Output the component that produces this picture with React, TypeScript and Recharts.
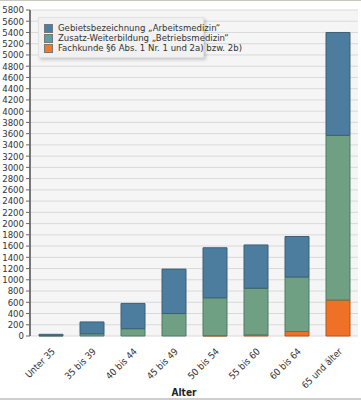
import React from "react";
import { BarChart, Bar, XAxis, YAxis, CartesianGrid } from "recharts";

const categories = ["Unter 35", "35 bis 39", "40 bis 44", "45 bis 49", "50 bis 54", "55 bis 60", "60 bis 64", "65 und älter"];
const fachkunde = [0, 0, 0, 0, 5, 20, 80, 640];
const betriebsmedizin = [5, 40, 130, 400, 675, 830, 970, 2930];
const arbeitsmedizin = [25, 210, 450, 790, 890, 770, 720, 1830];
const yTicks = Array.from({ length: 30 }, (_, i) => i * 200);
const boundaryTicks = [0, 1, 2, 3, 4, 5, 6, 7, 8];

const seriesNames = [
  "Gebietsbezeichnung „Arbeitsmedizin“",
  "Zusatz-Weiterbildung „Betriebsmedizin“",
  "Fachkunde §6 Abs. 1 Nr. 1 und 2a) bzw. 2b)",
];
const colors = ["#4c7d9e", "#6fa084", "#ee7127"];
const strokes = ["#3b6077", "#4f7a62", "#b5541a"];
const swatch = ["#4a7fa6", "#5e9f9a", "#f07a2a"];

const data = categories.map((c, i) => ({
  name: c,
  f: fachkunde[i],
  b: betriebsmedizin[i],
  a: arbeitsmedizin[i],
}));

const FONT = "'Liberation Sans Narrow', 'DejaVu Sans Condensed', 'Liberation Sans', sans-serif";

const XTick = (props: any) => {
  const { x, y, payload } = props;
  return (
    <g transform={`translate(${x + 3},${y + 6})`}>
      <text
        x={0}
        y={0}
        dy={3}
        textAnchor="end"
        transform="rotate(-45)"
        fontSize={9.5}
        fontFamily={FONT}
        fill="#333"
      >
        {payload.value}
      </text>
    </g>
  );
};

const LegendBox = () => (
  <div
    style={{
      position: "absolute",
      left: 38,
      top: 17,
      boxSizing: "border-box",
      width: 166,
      height: 41,
      background: "#f1f1f1",
      border: "1px solid #e2e2e2",
      boxShadow: "2px 2px 3px rgba(0,0,0,0.18)",
      padding: "5px 5px 0 5px",
      fontFamily: FONT,
      fontSize: 9.5,
      color: "#333",
      lineHeight: "10px",
    }}
  >
    {seriesNames.map((n, i) => (
      <div key={n} style={{ position: "relative", height: 10, paddingLeft: 14, whiteSpace: "nowrap" }}>
        <div
          style={{
            position: "absolute",
            left: 0,
            top: 1,
            width: 7,
            height: 7,
            background: swatch[i],
            border: "1px solid #777",
          }}
        />
        {n}
      </div>
    ))}
  </div>
);

export default function App() {
  return (
    <div style={{ position: "absolute", left: 0, top: 0, width: 361, height: 400, background: "#fff" }}>
      <div style={{ position: "absolute", left: 0, top: 0, width: 361, height: 1, background: "#c8c8c0" }} />
      <div style={{ position: "absolute", left: 0, top: 398, width: 361, height: 2, background: "#cfcfcf" }} />
      <BarChart
        width={361}
        height={400}
        data={data}
        margin={{ top: 10, right: 3, left: 0, bottom: 0 }}
        barSize={24}
      >
        <CartesianGrid vertical={false} stroke="#d9d9d9" strokeWidth={1} fill="#f5f5f5" />
        <XAxis
          xAxisId="b"
          type="number"
          domain={[0, 8]}
          ticks={boundaryTicks}
          tick={() => null}
          tickSize={4}
          height={0}
          stroke="#666"
          tickLine={{ stroke: "#666" }}
          axisLine={{ stroke: "#666", strokeWidth: 1.5 }}
          allowDataOverflow
        />
        <XAxis
          dataKey="name"
          xAxisId="c"
          tick={<XTick />}
          tickLine={false}
          axisLine={false}
          interval={0}
          height={64}
          label={{
            value: "Alter",
            position: "insideBottom",
            offset: 4,
            dx: -10,
            style: { fontFamily: FONT, fontSize: 10, fontWeight: "bold", fill: "#222" },
          }}
        />
        <YAxis
          domain={[0, 5800]}
          ticks={yTicks}
          interval={0}
          width={30}
          tickSize={4}
          tick={{ fontSize: 9.5, fontFamily: FONT, fill: "#333" }}
          stroke="#666"
          axisLine={{ stroke: "#777", strokeWidth: 2 }}
        />
        <Bar dataKey="f" stackId="s" xAxisId="c" fill={colors[2]} stroke={strokes[2]} isAnimationActive={false} />
        <Bar dataKey="b" stackId="s" xAxisId="c" fill={colors[1]} stroke={strokes[1]} isAnimationActive={false} />
        <Bar dataKey="a" stackId="s" xAxisId="c" fill={colors[0]} stroke={strokes[0]} isAnimationActive={false} />
      </BarChart>
      <LegendBox />
    </div>
  );
}
